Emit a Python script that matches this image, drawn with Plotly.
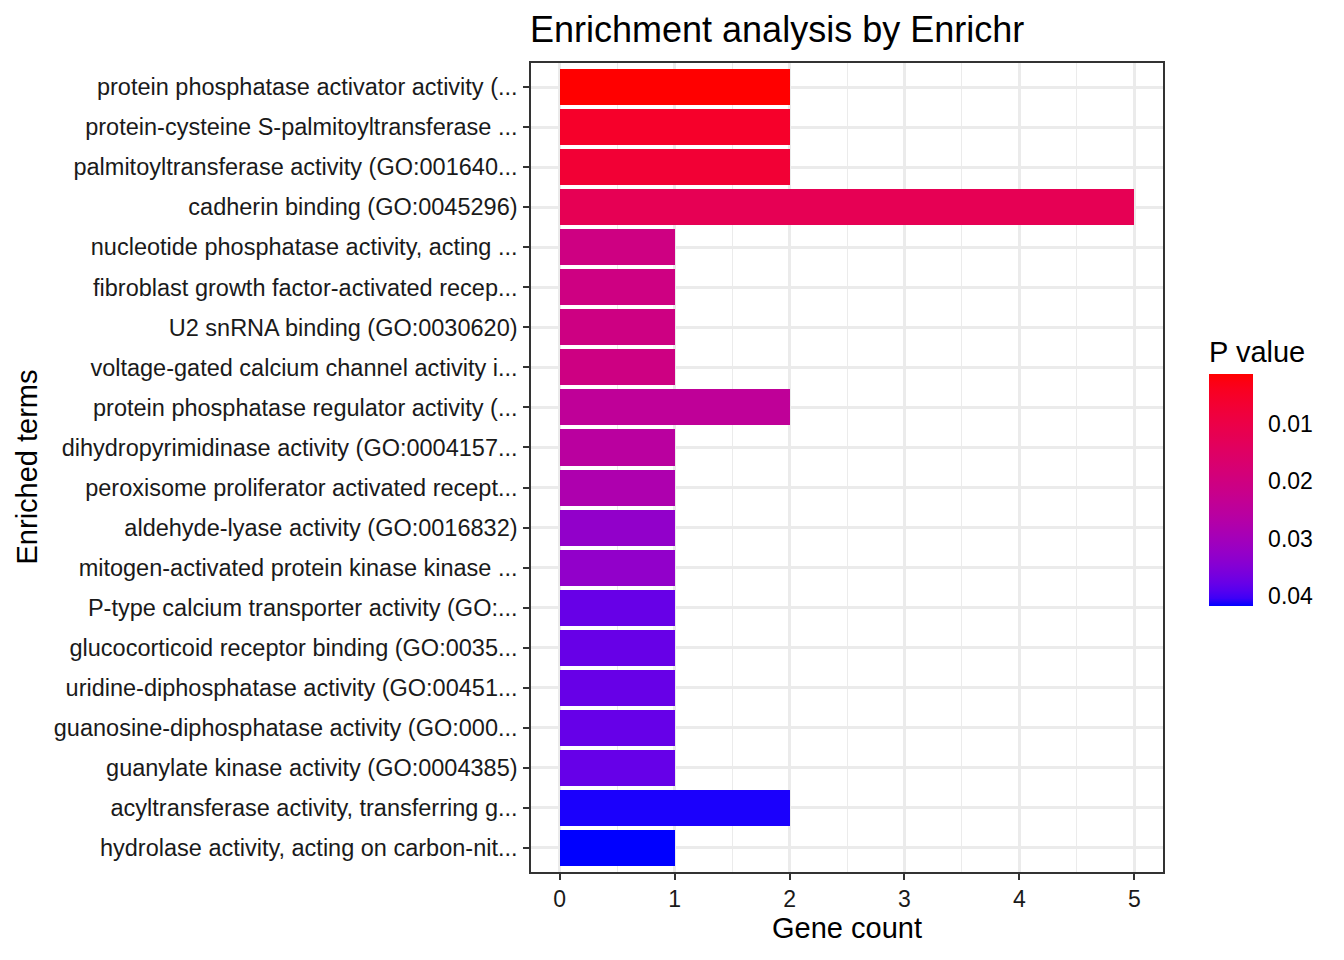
import plotly.graph_objects as go

# Enrichr results, top to bottom as drawn
terms = [
    "protein phosphatase activator activity (...",
    "protein-cysteine S-palmitoyltransferase ...",
    "palmitoyltransferase activity (GO:001640...",
    "cadherin binding (GO:0045296)",
    "nucleotide phosphatase activity, acting ...",
    "fibroblast growth factor-activated recep...",
    "U2 snRNA binding (GO:0030620)",
    "voltage-gated calcium channel activity i...",
    "protein phosphatase regulator activity (...",
    "dihydropyrimidinase activity (GO:0004157...",
    "peroxisome proliferator activated recept...",
    "aldehyde-lyase activity (GO:0016832)",
    "mitogen-activated protein kinase kinase ...",
    "P-type calcium transporter activity (GO:...",
    "glucocorticoid receptor binding (GO:0035...",
    "uridine-diphosphatase activity (GO:00451...",
    "guanosine-diphosphatase activity (GO:000...",
    "guanylate kinase activity (GO:0004385)",
    "acyltransferase activity, transferring g...",
    "hydrolase activity, acting on carbon-nit...",
]
gene_count = [2, 2, 2, 5, 1, 1, 1, 1, 2, 1, 1, 1, 1, 1, 1, 1, 1, 1, 2, 1]
p_value = [0.00137, 0.0054, 0.0070, 0.0123, 0.0203, 0.0203, 0.0204, 0.0204,
           0.0243, 0.0256, 0.0280, 0.0328, 0.0329, 0.0377, 0.0377, 0.0377,
           0.0378, 0.0378, 0.0411, 0.04168]
p_ticks = [0.01, 0.02, 0.03, 0.04]


# ggplot-style gradient (interpolated in CIELAB) from red (low p) to blue (high p)
def to_lab(rgb):
    lin = []
    for c in rgb:
        c = c / 255
        lin.append(c / 12.92 if c <= 0.04045 else ((c + 0.055) / 1.055) ** 2.4)
    r, g, b = lin
    x = (0.4124 * r + 0.3576 * g + 0.1805 * b) / 0.95047
    y = 0.2126 * r + 0.7152 * g + 0.0722 * b
    z = (0.0193 * r + 0.1192 * g + 0.9505 * b) / 1.08883
    f = lambda t: t ** (1 / 3) if t > 0.008856 else 7.787 * t + 16 / 116
    fx, fy, fz = f(x), f(y), f(z)
    return 116 * fy - 16, 500 * (fx - fy), 200 * (fy - fz)


def to_rgb(lab):
    L, a, b = lab
    fy = (L + 16) / 116
    fx, fz = fy + a / 500, fy - b / 200
    g = lambda t: t ** 3 if t ** 3 > 0.008856 else (t - 16 / 116) / 7.787
    x, y, z = 0.95047 * g(fx), g(fy), 1.08883 * g(fz)
    lin = [3.2406 * x - 1.5372 * y - 0.4986 * z,
           -0.9689 * x + 1.8758 * y + 0.0415 * z,
           0.0557 * x - 0.2040 * y + 1.0570 * z]
    out = []
    for c in lin:
        c = min(max(c, 0), 1)
        c = 12.92 * c if c <= 0.0031308 else 1.055 * c ** (1 / 2.4) - 0.055
        out.append(round(c * 255))
    return "rgb(%d,%d,%d)" % tuple(out)


red, blue = to_lab((255, 0, 0)), to_lab((0, 0, 255))
n = 30
# colour values are -p so that small p sits on top of the colourbar
scale = []
for i in range(n + 1):
    s = i / n
    t = 1 - s
    lab = [red[k] + (blue[k] - red[k]) * t for k in range(3)]
    scale.append([s, to_rgb(lab)])

PW, PH = 632, 809  # panel size in px
W, H = 1336, 952   # page adds ~8px body margin

fig = go.Figure()
fig.add_trace(go.Bar(
    x=gene_count,
    y=terms,
    orientation="h",
    width=0.9,
    marker=dict(
        color=[-p for p in p_value],
        colorscale=scale,
        cmin=-max(p_value),
        cmax=-min(p_value),
        line=dict(width=0),
        colorbar=dict(
            title=dict(text="P value", side="top",
                       font=dict(size=29, color="#000000")),
            tickvals=[-v for v in p_ticks],
            ticktext=["%.2f" % v for v in p_ticks],
            ticks="outside", ticklen=11, tickcolor="rgba(0,0,0,0)",
            tickfont=dict(size=23, color="#000000"),
            thickness=44, thicknessmode="pixels",
            len=269, lenmode="pixels",
            x=(1209 - 531) / PW, xanchor="left", xpad=0,
            y=(872 - 606) / PH, yanchor="bottom", ypad=0,
            outlinewidth=0,
        ),
    ),
    showlegend=False,
))

fig.update_layout(
    width=W, height=H,
    margin=dict(l=523, r=W - 523 - PW, t=55, b=H - 55 - PH),
    paper_bgcolor="white", plot_bgcolor="white",
    font=dict(family="Liberation Sans, Arial, sans-serif", color="#000000"),
    bargap=0,
    title=dict(text="Enrichment analysis by Enrichr", x=522 / W, xanchor="left",
               xref="container", y=1 - 21 / H, yanchor="middle", yref="container",
               font=dict(size=36, color="#000000")),
    annotations=[
        dict(text="Gene count", x=0.5, xref="paper", y=-56 / PH, yref="paper",
             xanchor="center", yanchor="middle", showarrow=False,
             font=dict(size=29, color="#000000")),
        dict(text="Enriched terms", x=(26 - 531) / PW, xref="paper", y=0.5, yref="paper",
             xanchor="center", yanchor="middle", showarrow=False, textangle=-90,
             font=dict(size=29, color="#000000")),
    ],
)

fig.update_xaxes(
    range=[-0.25, 5.25], tick0=0, dtick=1,
    showgrid=True, gridcolor="#EBEBEB", gridwidth=2.5,
    minor=dict(dtick=0.5, showgrid=True, gridcolor="#EBEBEB", gridwidth=1.3),
    ticks="outside", ticklen=6, tickwidth=1.5, tickcolor="#333333",
    tickfont=dict(size=23, color="#1a1a1a"),
    showline=True, linecolor="#333333", linewidth=1.5, mirror=True,
    zeroline=False,
)
fig.update_yaxes(
    type="category", categoryorder="array", categoryarray=terms,
    range=[len(terms) - 1 + 0.6, -0.6],
    showgrid=True, gridcolor="#EBEBEB", gridwidth=2.5,
    ticks="outside", ticklen=6, tickwidth=1.5, tickcolor="#333333",
    tickfont=dict(size=23.5, color="#1a1a1a"), ticklabelstandoff=1,
    showline=True, linecolor="#333333", linewidth=1.5, mirror=True,
    zeroline=False,
)

fig.write_html("out.html")
